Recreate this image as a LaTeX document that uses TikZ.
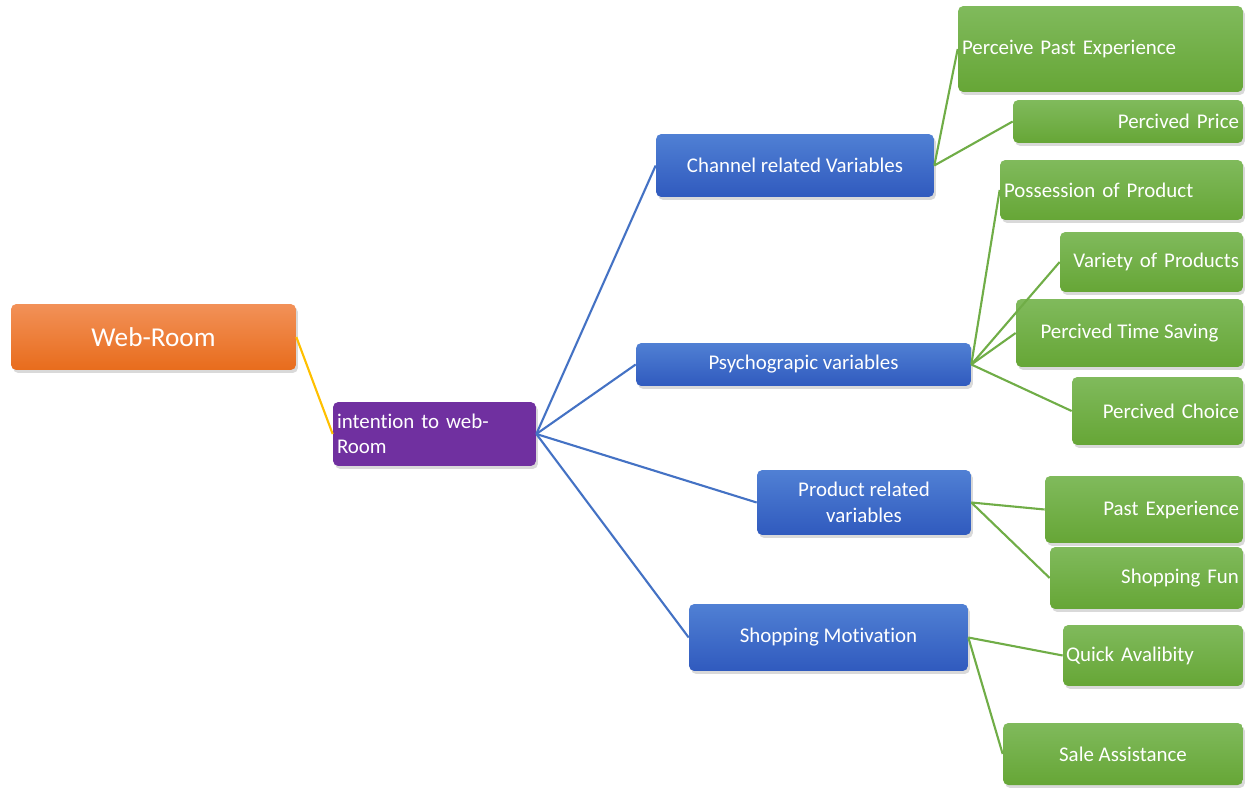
\documentclass[tikz,border=0pt]{standalone}
\usepackage{fontspec}
\setmainfont{Carlito}[Ligatures=NoCommon]
\usetikzlibrary{shadows}
\definecolor{roomorange}{RGB}{237,125,49}
\definecolor{roomorangetop}{RGB}{242,145,88}
\definecolor{roomorangebot}{RGB}{232,108,28}
\definecolor{intentpurple}{RGB}{112,48,160}
\definecolor{varbluetop}{RGB}{80,128,212}
\definecolor{varbluebot}{RGB}{48,90,190}
\definecolor{leafgreentop}{RGB}{128,186,92}
\definecolor{leafgreenbot}{RGB}{102,166,54}
\definecolor{lineblue}{RGB}{68,114,196}
\definecolor{linegreen}{RGB}{112,173,71}
\definecolor{lineyellow}{RGB}{255,192,0}
\tikzset{
  basebox/.style={rounded corners=3pt, inner xsep=0.1cm, inner ysep=0pt, text=white,
               font=\fontsize{11.9}{14.5}\selectfont,
               drop shadow={opacity=0.3, shadow xshift=0.04cm, shadow yshift=-0.06cm}},
  rootbox/.style={basebox, top color=roomorangetop, bottom color=roomorangebot,
               font=\fontsize{15.5}{18}\selectfont},
  ibox/.style={basebox, fill=intentpurple, align=left},
  vbox/.style={basebox, top color=varbluetop, bottom color=varbluebot, align=center},
  lbox/.style={basebox, top color=leafgreentop, bottom color=leafgreenbot},
  yline/.style={draw=lineyellow, line width=1.2pt},
  bline/.style={draw=lineblue, line width=1.2pt},
  gline/.style={draw=linegreen, line width=1.2pt},
}
\begin{document}
\begin{tikzpicture}[x=0.02cm, y=-0.02cm]
  \useasboundingbox (0,0) rectangle (1249,788);
  % root and intention
  \node[rootbox, minimum width=5.70cm, minimum height=1.32cm] (room) at (153.5,337) {Web-Room};
  \node[ibox, text width=3.90cm, inner xsep=0.08cm, minimum height=1.28cm] (intent) at (434.5,434) {intention to web-\\Room};
  % variable groups
  \node[vbox, minimum width=5.56cm, minimum height=1.26cm] (channel) at (795,165.5) {Channel related Variables};
  \node[vbox, minimum width=6.70cm, minimum height=0.86cm] (psycho) at (803.5,364.5) {Psychograpic variables};
  \node[vbox, minimum width=4.28cm, minimum height=1.30cm] (product) at (864,502.5) {Product related\\variables};
  \node[vbox, minimum width=5.58cm, minimum height=1.34cm] (motive) at (828.5,637.5) {Shopping Motivation};
  % leaves
  \node[lbox, text width=5.54cm, inner xsep=0.08cm, align=left, minimum height=1.72cm] (pastexp) at (1100.5,49) {Perceive Past Experience};
  \node[lbox, text width=4.44cm, inner xsep=0.08cm, align=right, minimum height=0.86cm] (price) at (1128,121.5) {Percived Price};
  \node[lbox, text width=4.70cm, inner xsep=0.08cm, align=left, minimum height=1.20cm] (possess) at (1121.5,190) {Possession of Product};
  \node[lbox, text width=3.50cm, inner xsep=0.08cm, align=right, minimum height=1.20cm] (variety) at (1151.5,262) {Variety of Products};
  \node[lbox, minimum width=4.54cm, align=center, minimum height=1.36cm] (timesave) at (1129.5,333) {Percived Time Saving};
  \node[lbox, text width=3.26cm, inner xsep=0.08cm, align=right, minimum height=1.36cm] (choice) at (1157.5,411) {Percived Choice};
  \node[lbox, text width=3.80cm, inner xsep=0.08cm, align=right, minimum height=1.34cm] (pastexp2) at (1144,509.5) {Past Experience};
  \node[lbox, text width=3.70cm, inner xsep=0.08cm, align=right, minimum height=1.24cm] (fun) at (1146.5,578) {Shopping Fun};
  \node[lbox, text width=3.48cm, inner xsep=0.06cm, align=left, minimum height=1.22cm] (quick) at (1153,655.5) {Quick Avalibity};
  \node[lbox, minimum width=4.80cm, align=center, minimum height=1.24cm] (sale) at (1123,754) {Sale Assistance};
  % connectors
  \draw[yline] (room.east) -- (intent.west);
  \foreach \g in {channel,psycho,product,motive}
    \draw[bline] (intent.east) -- (\g.west);
  \foreach \l in {pastexp,price}
    \draw[gline] (channel.east) -- (\l.west);
  \foreach \l in {possess,variety,timesave,choice}
    \draw[gline] (psycho.east) -- (\l.west);
  \foreach \l in {pastexp2,fun}
    \draw[gline] (product.east) -- (\l.west);
  \foreach \l in {quick,sale}
    \draw[gline] (motive.east) -- (\l.west);
\end{tikzpicture}
\end{document}
